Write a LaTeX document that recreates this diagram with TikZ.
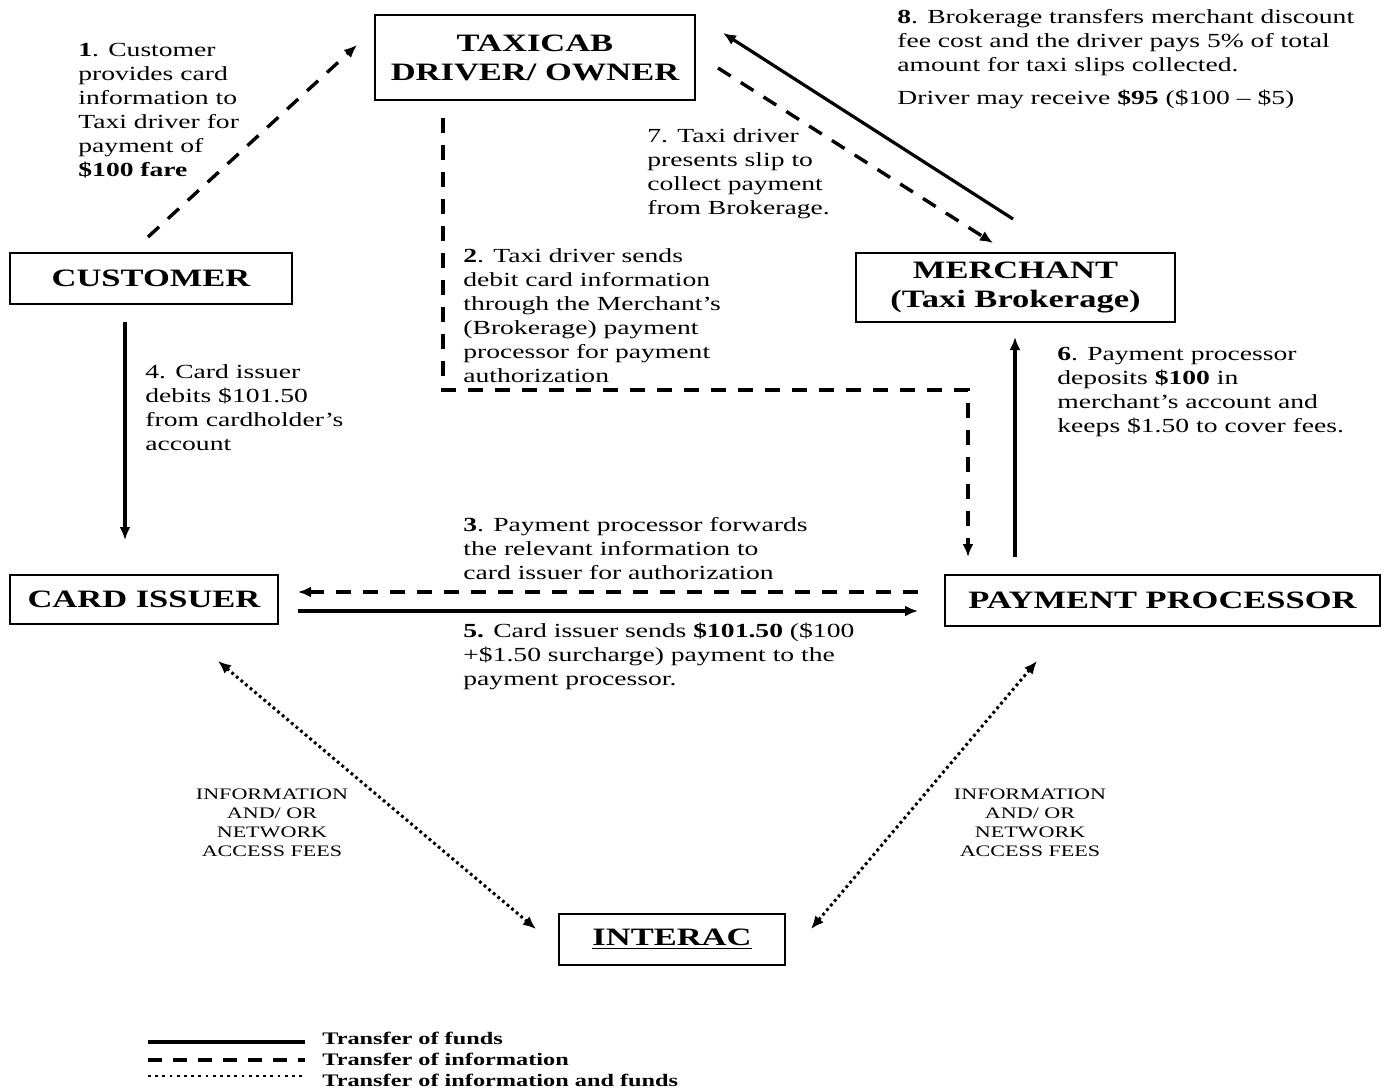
\documentclass[tikz,border=0pt]{standalone}
\usepackage{fontspec}
\setmainfont{Liberation Serif}[FakeStretch=1.38]
\usetikzlibrary{arrows.meta}
\newcommand\boxfnt{\bfseries\fontsize{12.5}{14.5}\selectfont}
\newcommand\lblfnt{\fontsize{10}{12}\selectfont}
\tikzset{
  box/.style={draw, line width=1pt, inner sep=0pt, font=\boxfnt, align=center},
  lbl/.style={inner sep=0pt, anchor=north west, align=left, font=\lblfnt},
  fund/.style={line width=1.6pt},
  info/.style={line width=1.7pt, dash pattern=on 7.5pt off 6pt},
  both/.style={line width=1.5pt, dash pattern=on 1.4pt off 1.6pt},
  tip/.style={-{Latex[length=6.5pt,width=5.5pt]}},
  tips/.style={{Latex[length=6.5pt,width=5.5pt]}-{Latex[length=6.5pt,width=5.5pt]}},
  small/.style={inner sep=0pt, align=center, font=\fontsize{8}{9.5}\selectfont},
  leg/.style={inner sep=0pt, anchor=west, font=\bfseries\fontsize{8.8}{10}\selectfont}
}
\begin{document}
\begin{tikzpicture}[x=0.5pt,y=-0.5pt]
\useasboundingbox (0,0) rectangle (1386,1091);
% boxes
\node[box, minimum width=160pt, minimum height=42.5pt] (taxi) at (535,57.5) {TAXICAB\\DRIVER/ OWNER};
\node[box, minimum width=141pt, minimum height=25.5pt] (cust) at (151,278.5) {CUSTOMER};
\node[box, minimum width=159.5pt, minimum height=34.5pt] (merch) at (1015.5,287.5) {MERCHANT\\(Taxi Brokerage)};
\node[box, minimum width=134pt, minimum height=24.5pt] (issuer) at (144,599.5) {CARD ISSUER};
\node[box, minimum width=217.5pt, minimum height=25.5pt] (proc) at (1162.5,600.5) {PAYMENT PROCESSOR};
\node[box, minimum width=113pt, minimum height=25.5pt] (interac) at (672,939.5) {\underline{INTERAC}};
% connector end points
\coordinate (a1s) at (148,237);  \coordinate (a1e) at (357,45);
\coordinate (a2s) at (443,118);  \coordinate (a2a) at (443,390);
\coordinate (a2b) at (968,390);  \coordinate (a2e) at (968,557);
\coordinate (a3s) at (918,592);  \coordinate (a3e) at (298,592);
\coordinate (a5s) at (298,611);  \coordinate (a5e) at (918,611);
\coordinate (a4s) at (125,322);  \coordinate (a4e) at (125,540);
\coordinate (a6s) at (1015,557); \coordinate (a6e) at (1015,337);
\coordinate (a7s) at (718,68);   \coordinate (a7e) at (993,243);
\coordinate (a8s) at (1013,219); \coordinate (a8e) at (723,33);
\coordinate (d1s) at (218,661);  \coordinate (d1e) at (536,929);
\coordinate (d2s) at (1037,661); \coordinate (d2e) at (811,929);
% connectors
\draw[info, tip] (a1s) -- (a1e);
\draw[info, tip] (a2s) -- (a2a) -- (a2b) -- (a2e);
\draw[info, tip] (a3s) -- (a3e);
\draw[fund, tip] (a5s) -- (a5e);
\draw[fund, tip] (a4s) -- (a4e);
\draw[fund, tip] (a6s) -- (a6e);
\draw[info, tip] (a7s) -- (a7e);
\draw[fund, tip] (a8s) -- (a8e);
\draw[both, tips] (d1s) -- (d1e);
\draw[both, tips] (d2s) -- (d2e);
% labels
\node[lbl] (l1) at (78,43) {\textbf{1}. Customer\\provides card\\information to\\Taxi driver for\\payment of\\\textbf{\$100 fare}};
\node[lbl] (l7) at (647,128) {7. Taxi driver\\presents slip to\\collect payment\\from Brokerage.};
\node[lbl] (l8) at (897,9) {\textbf{8}. Brokerage transfers merchant discount\\fee cost and the driver pays 5\% of total\\amount for taxi slips collected.\\[4.5pt]Driver may receive \textbf{\$95} (\$100 -- \$5)};
\node[lbl] (l2) at (463,248) {\textbf{2}. Taxi driver sends\\debit card information\\through the Merchant's\\(Brokerage) payment\\processor for payment\\authorization};
\node[lbl] (l4) at (145,364) {4. Card issuer\\debits \$101.50\\from cardholder's\\account};
\node[lbl] (l6) at (1057,347) {\textbf{6}. Payment processor\\deposits \textbf{\$100} in\\merchant's account and\\keeps \$1.50 to cover fees.};
\node[lbl] (l3) at (463,517) {\textbf{3}. Payment processor forwards\\the relevant information to\\card issuer for authorization};
\node[lbl] (l5) at (463,623) {\textbf{5.} Card issuer sends \textbf{\$101.50} (\$100\\+\$1.50 surcharge) payment to the\\payment processor.};
\node[small] (n1) at (272,823) {INFORMATION\\AND/ OR\\NETWORK\\ACCESS FEES};
\node[small] (n2) at (1030,823) {INFORMATION\\AND/ OR\\NETWORK\\ACCESS FEES};
% legend
\coordinate (g1s) at (148,1042); \coordinate (g1e) at (305,1042);
\coordinate (g2s) at (148,1060); \coordinate (g2e) at (305,1060);
\coordinate (g3s) at (148,1076); \coordinate (g3e) at (305,1076);
\draw[fund] (g1s) -- (g1e);
\draw[line width=1.6pt, dash pattern=on 7pt off 5.5pt] (g2s) -- (g2e);
\draw[line width=1.4pt, dash pattern=on 1.4pt off 2.2pt] (g3s) -- (g3e);
\node[leg] (t1) at (322,1038) {Transfer of funds};
\node[leg] (t2) at (322,1059) {Transfer of information};
\node[leg] (t3) at (322,1080) {Transfer of information and funds};
\end{tikzpicture}
\end{document}
